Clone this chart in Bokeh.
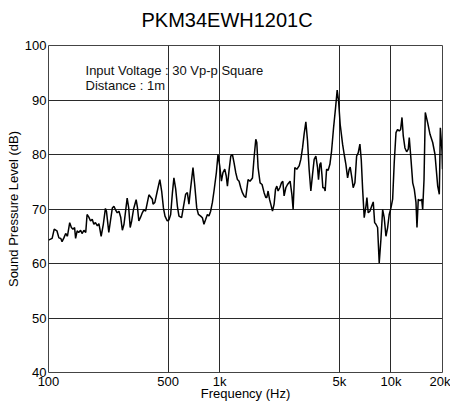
from bokeh.plotting import figure
from bokeh.models import Range1d, FixedTicker, Label, Title
from bokeh.embed import file_html
from bokeh.resources import INLINE

# ---- data ----
freq_hz = [100, 105, 108, 112, 115, 118, 120, 123, 126, 129,
           133, 136, 139, 142, 144, 147, 150, 154, 157, 161,
           165, 168, 172, 176, 180, 184, 188, 193, 197, 203,
           209, 215, 218, 225, 230, 236, 241, 246, 252, 258,
           264, 270, 276, 282, 288, 294, 300, 306, 314, 325,
           331, 337, 345, 353, 361, 369, 378, 386, 395, 404,
           408, 418, 432, 447, 458, 469, 479, 494, 505, 517,
           529, 540, 553, 566, 578, 599, 610, 632, 647, 661,
           676, 698, 714, 734, 751, 774, 792, 809, 828, 847,
           865, 885, 906, 926, 956, 977, 1000, 1023, 1045, 1070,
           1091, 1109, 1133, 1160, 1186, 1212, 1240, 1269, 1297, 1327,
           1357, 1387, 1419, 1464, 1503, 1553, 1587, 1624, 1646, 1675,
           1721, 1767, 1816, 1858, 1883, 1916, 1953, 1987, 2033, 2078,
           2117, 2155, 2192, 2243, 2294, 2336, 2377, 2432, 2488, 2577,
           2638, 2683, 2745, 2821, 2909, 2976, 3045, 3112, 3184, 3257,
           3327, 3405, 3485, 3561, 3643, 3726, 3775, 3845, 3896, 3950,
           4002, 4073, 4128, 4208, 4300, 4399, 4499, 4622, 4749, 4853,
           4945, 5053, 5218, 5333, 5455, 5582, 5706, 5781, 5913, 6017,
           6159, 6302, 6438, 6587, 6709, 6834, 6979, 7143, 7238, 7364,
           7534, 7711, 7881, 8030, 8173, 8356, 8539, 8737, 8944, 9134,
           9349, 9563, 9770, 10000, 10230, 10450, 10700, 10940, 11180, 11390,
           11600, 11800, 12070, 12350, 12620, 12790, 13090, 13400, 13690, 14000,
           14190, 14440, 14780, 15120, 15320, 15600, 15870, 16390, 16910, 17530,
           18080, 18750, 19160, 19430, 19870, 20000]

spl_db = [64.3, 64.6, 66.3, 66.0, 64.7, 64.6, 64.0, 64.7, 65.5, 65.0,
          67.5, 66.6, 66.3, 66.6, 64.6, 66.0, 65.7, 66.1, 65.5, 66.1,
          65.7, 69.0, 68.5, 67.8, 68.1, 67.2, 67.5, 66.9, 67.3, 65.0,
          67.2, 70.1, 69.6, 65.7, 67.8, 70.2, 70.5, 69.9, 69.3, 69.6,
          68.5, 66.1, 67.2, 69.6, 72.0, 70.2, 66.6, 67.8, 70.0, 71.7,
          70.2, 67.8, 68.5, 69.3, 69.9, 69.6, 71.2, 72.6, 72.2, 71.8,
          70.9, 71.2, 73.3, 75.4, 73.3, 70.2, 68.7, 67.8, 68.0, 69.0,
          72.9, 75.7, 73.7, 70.5, 68.7, 68.4, 69.9, 72.7, 73.0, 70.9,
          73.8, 77.6, 74.5, 70.2, 69.0, 68.7, 68.4, 67.2, 68.1, 69.0,
          68.7, 69.6, 71.2, 73.3, 76.7, 80.0, 77.9, 75.1, 76.7, 77.3,
          76.1, 74.2, 77.0, 79.7, 80.0, 78.5, 76.7, 75.4, 75.1, 73.9,
          73.0, 72.4, 72.1, 75.4, 75.1, 75.7, 79.4, 82.8, 82.2, 77.6,
          74.8, 74.5, 73.0, 72.1, 72.1, 73.3, 71.8, 70.9, 69.6, 70.9,
          73.6, 74.2, 73.3, 73.9, 74.8, 75.1, 72.4, 73.9, 74.5, 75.1,
          72.7, 69.9, 77.6, 77.3, 77.9, 79.1, 81.2, 83.8, 86.0, 82.5,
          77.3, 73.3, 76.4, 79.1, 79.7, 77.6, 75.4, 78.2, 78.5, 76.4,
          73.9, 73.9, 73.3, 77.3, 77.1, 78.2, 80.6, 84.9, 88.6, 91.8,
          89.8, 85.5, 81.9, 80.0, 78.2, 75.7, 77.3, 77.7, 75.7, 73.9,
          74.8, 79.7, 80.3, 81.9, 79.0, 73.6, 68.4, 70.5, 72.1, 69.3,
          69.6, 70.5, 71.3, 67.5, 67.2, 66.6, 60.1, 64.4, 69.9, 68.4,
          65.0, 66.6, 69.0, 70.2, 71.8, 78.5, 84.0, 84.6, 84.3, 84.6,
          86.8, 83.4, 81.2, 80.5, 81.0, 83.1, 79.1, 74.8, 73.6, 71.2,
          66.6, 71.8, 71.5, 71.8, 69.9, 75.4, 87.7, 85.8, 83.7, 82.2,
          80.0, 74.2, 72.7, 84.9, 80.6, 77.3]

x_ticks = [100, 500, 1000, 5000, 10000, 20000]
x_tick_labels = ["100", "500", "1k", "5k", "10k", "20k"]
y_ticks = [40, 50, 60, 70, 80, 90, 100]

title_text = "PKM34EWH1201C"
note_lines = ["Input Voltage : 30 Vp-p Square", "Distance : 1m"]
x_label = "Frequency (Hz)"
y_label = "Sound Pressure Level (dB)"

FONT = "Liberation Sans"
GRID = "#2a2a2a"

p = figure(width=450, height=405, x_axis_type="log",
           x_range=Range1d(100, 20000), y_range=Range1d(40, 100),
           output_backend="svg", toolbar_location=None,
           min_border_left=48, min_border_right=8,
           min_border_top=45, min_border_bottom=33)
p.background_fill_color = "white"
p.border_fill_color = "white"
p.outline_line_color = "#444444"
p.outline_line_width = 1

# small spacer panel between the frame and the title (lifts the title)
p.add_layout(Title(text=" ", text_font_size="1px", standoff=3), "above")

# title
p.title.text = title_text
p.title.align = "left"
p.title.offset = 93
p.title.vertical_align = "top"
p.title.standoff = 14
p.title.text_font = FONT
p.title.text_font_size = "20px"
p.title.text_font_style = "normal"
p.title.text_color = "black"

p.line(freq_hz, spl_db, line_color="black", line_width=1.5)

# x axis
xa = p.xaxis[0]
xa.ticker = FixedTicker(ticks=x_ticks, minor_ticks=[])
xa.major_label_overrides = {t: l for t, l in zip(x_ticks, x_tick_labels)}
xa.axis_line_color = None
xa.major_tick_line_color = None
xa.minor_tick_line_color = None
xa.major_tick_out = 0
xa.major_tick_in = 0
xa.minor_tick_out = 0
xa.major_label_standoff = 1
xa.major_label_text_font = FONT
xa.major_label_text_font_size = "13px"
xa.major_label_text_color = "black"
xa.axis_label = x_label
xa.axis_label_standoff = -6
xa.axis_label_text_font = FONT
xa.axis_label_text_font_size = "13px"
xa.axis_label_text_font_style = "normal"
xa.axis_label_text_color = "black"

# y axis
ya = p.yaxis[0]
ya.ticker = FixedTicker(ticks=y_ticks, minor_ticks=[])
ya.axis_line_color = None
ya.major_tick_line_color = None
ya.minor_tick_line_color = None
ya.major_tick_out = 0
ya.major_tick_in = 0
ya.minor_tick_out = 0
ya.major_label_standoff = 2
ya.major_label_text_font = FONT
ya.major_label_text_font_size = "13px"
ya.major_label_text_color = "black"
ya.axis_label = y_label
ya.axis_label_standoff = 1
ya.axis_label_text_font = FONT
ya.axis_label_text_font_size = "13px"
ya.axis_label_text_font_style = "normal"
ya.axis_label_text_color = "black"

p.xgrid.grid_line_color = GRID
p.xgrid.grid_line_width = 1
p.ygrid.grid_line_color = GRID
p.ygrid.grid_line_width = 1

# note text inside the plot area
p.add_layout(Label(x=164.5, y=95.45, text=note_lines[0], text_align="left",
                   text_baseline="alphabetic", text_font=FONT,
                   text_font_size="13px", text_color="#111111"))
p.add_layout(Label(x=164.5, y=92.7, text=note_lines[1], text_align="left",
                   text_baseline="alphabetic", text_font=FONT,
                   text_font_size="13px", text_color="#111111"))

open("out.html", "w").write(file_html(p, INLINE))
